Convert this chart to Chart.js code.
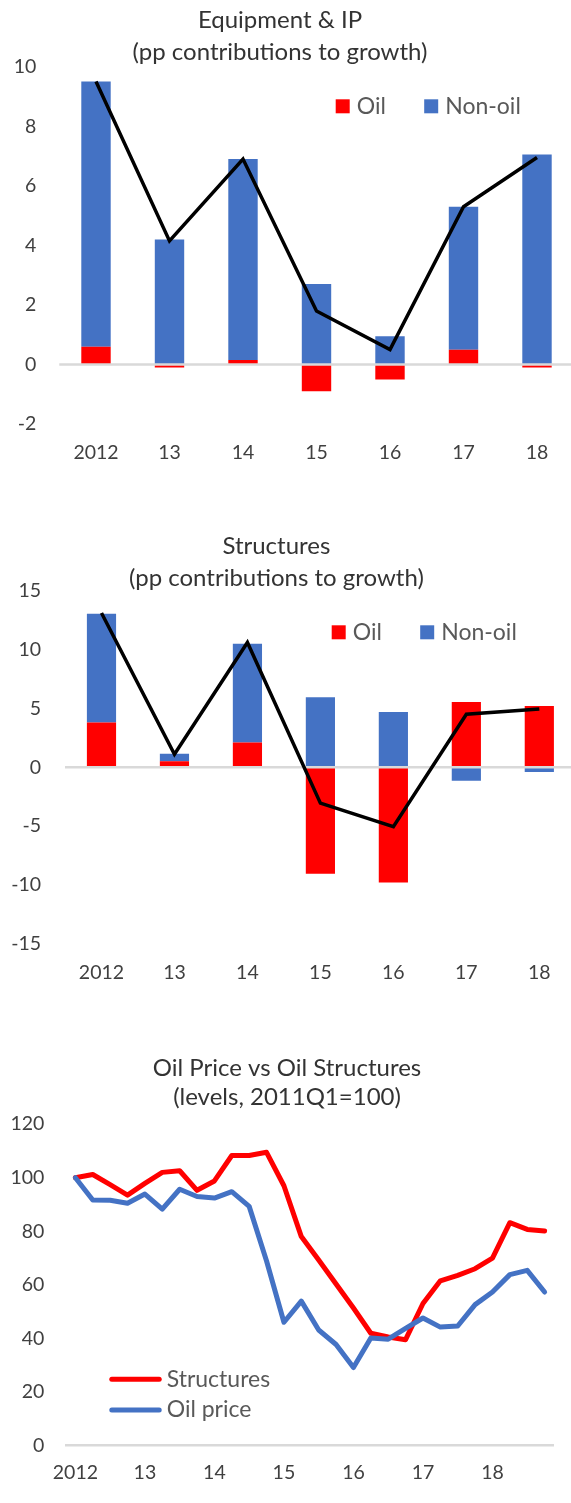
<!DOCTYPE html>
<html>
<head>
<meta charset="utf-8">
<script src="https://cdn.jsdelivr.net/npm/chart.js@4.4.1/dist/chart.umd.min.js"></script>
<style>
    html, body { margin: 0; padding: 0; background: #ffffff; overflow: hidden; }
    canvas { position: absolute; left: 0; }
    #equipChart { top: 0; }
    #structChart { top: 500px; }
    #oilChart { top: 1010px; }
</style>
</head>
<body>
<canvas id="equipChart" width="577" height="500"></canvas>
<canvas id="structChart" width="577" height="510"></canvas>
<canvas id="oilChart" width="577" height="493"></canvas>
<script>
// Annual categories for the two contribution charts
const years = ['2012', '13', '14', '15', '16', '17', '18'];

// Equipment & IP (pp contributions to growth)
const equipOil = [0.6, -0.1, 0.15, -0.9, -0.5, 0.5, -0.1];
const equipNonOil = [8.9, 4.2, 6.75, 2.7, 0.95, 4.8, 7.05];
const equipTotal = [9.5, 4.15, 6.9, 1.8, 0.5, 5.3, 6.95];

// Structures (pp contributions to growth)
const structOil = [3.8, 0.5, 2.1, -9.05, -9.8, 5.55, 5.2];
const structNonOil = [9.25, 0.65, 8.4, 5.95, 4.7, -1.15, -0.4];
const structTotal = [13.1, 1.1, 10.6, -3.05, -5.05, 4.5, 4.95];

// Oil price vs oil structures (levels, 2011Q1=100), quarterly
const quarters = [
    '2012Q1', '2012Q2', '2012Q3', '2012Q4', '2013Q1', '2013Q2', '2013Q3', '2013Q4',
    '2014Q1', '2014Q2', '2014Q3', '2014Q4', '2015Q1', '2015Q2', '2015Q3', '2015Q4',
    '2016Q1', '2016Q2', '2016Q3', '2016Q4', '2017Q1', '2017Q2', '2017Q3', '2017Q4',
    '2018Q1', '2018Q2', '2018Q3', '2018Q4'
];
const yearTicks = ['2012', '13', '14', '15', '16', '17', '18'];
const structuresLevel = [100, 101.2, 97.4, 93.5, 97.9, 102, 102.6, 95.3, 98.8, 108.3, 108.3, 109.5,
    97, 78, 69.3, 60.3, 51.3, 41.9, 40.5, 39.5, 53, 61.5, 63.5, 66, 70, 83.2, 80.7, 80.1];
const oilPrice = [100, 91.7, 91.6, 90.5, 93.9, 88.3, 95.7, 93, 92.4, 94.8, 89.3, 68.9,
    46, 53.9, 43.1, 37.7, 29.1, 40.1, 39.7, 43.7, 47.6, 44.2, 44.6, 52.6, 57.3, 63.8, 65.4, 57.3];

const titleFont = { family: 'Lato', size: 24, weight: 'normal', lineHeight: 0.8 };
const tickFont = { family: 'Lato', size: 19.5 };
const titleColor = '#333333';
const tickColor = '#404040';
const legendColor = '#595959';

Chart.defaults.font.family = 'Lato';

// legend drawn inside the plot area, like the Excel original
const insideLegend = {
    id: 'insideLegend',
    afterDraw(chart, args, opts) {
        const ctx = chart.ctx;
        ctx.save();
        ctx.font = opts.font;
        ctx.textBaseline = 'middle';
        let x = opts.x;
        let y = opts.y;
        chart.data.datasets.forEach(ds => {
            if (!ds.label) return;
            if (opts.marker === 'line') {
                ctx.strokeStyle = ds.borderColor;
                ctx.lineWidth = ds.borderWidth;
                ctx.lineCap = 'round';
                ctx.beginPath();
                ctx.moveTo(x + ds.borderWidth / 2, y);
                ctx.lineTo(x + opts.markerWidth - ds.borderWidth / 2, y);
                ctx.stroke();
            } else {
                ctx.fillStyle = ds.backgroundColor;
                ctx.fillRect(x, y - opts.markerWidth / 2, opts.markerWidth, opts.markerWidth);
            }
            ctx.fillStyle = opts.color;
            ctx.fillText(ds.label, x + opts.textOffset, y);
            x += opts.stepX;
            y += opts.stepY;
        });
        ctx.restore();
    }
};

// zero line sits over the bars but under the total line
const zeroLine = {
    id: 'zeroLine',
    beforeDatasetDraw(chart, args, opts) {
        if (args.meta.type !== 'line') return;
        const { ctx, chartArea } = chart;
        const y = chart.scales.y.getPixelForValue(0);
        ctx.save();
        ctx.strokeStyle = opts.color;
        ctx.lineWidth = opts.width;
        ctx.beginPath();
        ctx.moveTo(chartArea.left, y);
        ctx.lineTo(chartArea.right, y);
        ctx.stroke();
        ctx.restore();
    }
};

function contributionChart(id, cfg) {
    return new Chart(document.getElementById(id), {
        type: 'bar',
        data: {
            labels: years,
            datasets: [
                {
                    type: 'line',
                    label: '',
                    data: cfg.total,
                    borderColor: '#000000',
                    borderWidth: 3.5,
                    pointRadius: 0,
                    tension: 0,
                    order: 0
                },
                { label: 'Oil', data: cfg.oil, backgroundColor: '#FF0000', order: 1 },
                { label: 'Non-oil', data: cfg.nonOil, backgroundColor: '#4472C4', order: 1 }
            ]
        },
        options: {
            responsive: false,
            animation: false,
            events: [],
            layout: { padding: { left: cfg.padLeft, right: cfg.padRight, top: 0, bottom: cfg.padBottom } },
            datasets: { bar: { categoryPercentage: 1, barPercentage: 0.4 } },
            plugins: {
                legend: { display: false },
                tooltip: { enabled: false },
                title: {
                    display: true,
                    text: cfg.title,
                    color: titleColor,
                    font: titleFont,
                    padding: cfg.titlePad
                },
                subtitle: {
                    display: true,
                    text: '(pp contributions to growth)',
                    color: titleColor,
                    font: titleFont,
                    padding: cfg.subtitlePad
                },
                insideLegend: {
                    marker: 'box',
                    font: '23px Lato',
                    color: legendColor,
                    x: cfg.legendX,
                    y: cfg.legendY,
                    markerWidth: 14,
                    textOffset: 21,
                    stepX: 88.5,
                    stepY: 0
                },
                zeroLine: { color: '#D9D9D9', width: 2.5 }
            },
            scales: {
                x: {
                    stacked: true,
                    grid: { display: false, drawTicks: false },
                    border: { display: false },
                    ticks: { font: tickFont, color: tickColor, padding: cfg.xTickPad, maxRotation: 0 }
                },
                y: {
                    stacked: true,
                    min: cfg.min,
                    max: cfg.max,
                    grid: { display: false, drawTicks: false },
                    border: { display: false },
                    ticks: { stepSize: cfg.step, font: tickFont, color: tickColor, padding: cfg.yTickPad },
                    afterFit: scale => { scale.width = cfg.axisWidth; }
                }
            }
        },
        plugins: [insideLegend, zeroLine]
    });
}

contributionChart('equipChart', {
    title: 'Equipment & IP',
    oil: equipOil, nonOil: equipNonOil, total: equipTotal,
    min: -2, max: 10, step: 2,
    padLeft: -13.75, padRight: 3.25, padBottom: 19.3,
    axisWidth: 73, yTickPad: 23, xTickPad: 16.6,
    titlePad: { top: 11.1, bottom: 0 },
    subtitlePad: { top: 12, bottom: 5.2 },
    legendX: 335.7, legendY: 106.3
});

contributionChart('structChart', {
    title: 'Structures',
    oil: structOil, nonOil: structNonOil, total: structTotal,
    min: -15, max: 15, step: 5,
    padLeft: -23, padRight: 1.2, padBottom: 9,
    axisWidth: 88, yTickPad: 24, xTickPad: 16.9,
    titlePad: { top: 36.8, bottom: 0 },
    subtitlePad: { top: 12.3, bottom: 3.2 },
    legendX: 331.7, legendY: 132.3
});

new Chart(document.getElementById('oilChart'), {
    type: 'line',
    data: {
        labels: quarters,
        datasets: [
            {
                label: 'Structures',
                data: structuresLevel,
                borderColor: '#FF0000',
                borderWidth: 5,
                pointRadius: 0,
                borderJoinStyle: 'round',
                borderCapStyle: 'round',
                order: 1
            },
            {
                label: 'Oil price',
                data: oilPrice,
                borderColor: '#4472C4',
                borderWidth: 5,
                pointRadius: 0,
                borderJoinStyle: 'round',
                borderCapStyle: 'round',
                order: 0
            }
        ]
    },
    options: {
        responsive: false,
        animation: false,
        events: [],
        layout: { padding: { left: 0, right: 3, top: 0, bottom: 3 } },
        plugins: {
            legend: { display: false },
            tooltip: { enabled: false },
            title: {
                display: true,
                text: 'Oil Price vs Oil Structures',
                color: titleColor,
                font: titleFont,
                padding: { top: 48.4, bottom: 0 }
            },
            subtitle: {
                display: true,
                text: '(levels, 2011Q1=100)',
                color: titleColor,
                font: titleFont,
                padding: { top: 10.2, bottom: 17.2 }
            },
            insideLegend: {
                marker: 'line',
                font: '23px Lato',
                color: legendColor,
                x: 109.3,
                y: 369.3,
                markerWidth: 52.4,
                textOffset: 57.4,
                stepX: 0,
                stepY: 30.7
            }
        },
        scales: {
            x: {
                offset: true,
                grid: { display: false, drawTicks: false },
                border: { display: true, color: '#D9D9D9', width: 2.5 },
                ticks: {
                    font: tickFont,
                    color: tickColor,
                    padding: 15.6,
                    autoSkip: false,
                    maxRotation: 0,
                    callback: (value, index) => index % 4 === 0 ? yearTicks[index / 4] : ''
                }
            },
            y: {
                min: 0,
                max: 120,
                grid: { display: false, drawTicks: false },
                border: { display: false },
                ticks: { stepSize: 20, font: tickFont, color: tickColor, padding: 22.3 },
                afterFit: scale => { scale.width = 66.7; }
            },
            // empty right-hand strip so the title centres like the original
            yPad: {
                axis: 'y',
                position: 'right',
                grid: { display: false },
                border: { display: false },
                ticks: { display: false },
                afterFit: scale => { scale.width = 20.7; }
            }
        }
    },
    plugins: [insideLegend]
});
</script>
</body>
</html>
